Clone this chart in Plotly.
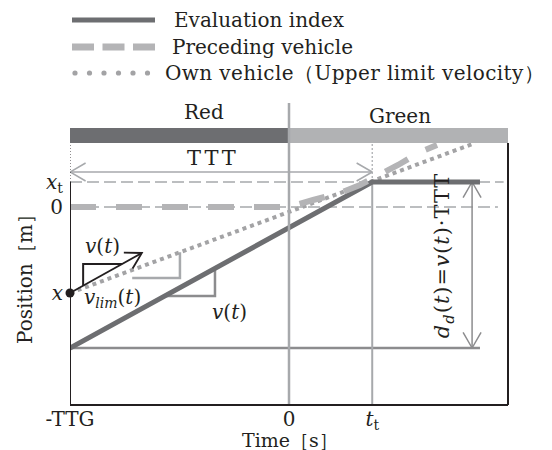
import math
import plotly.graph_objects as go

# ---- signal phases along the time axis ----
PHASE_NAMES = ["Red", "Green"]
PHASE_EDGES = [-5.0, 0.0, 5.0]
PHASE_COLORS = ["#6d6e71", "#b1b2b4"]
PHASE_LABEL_T = [-1.94, 2.53]

# ---- key times [s] and positions [m] ----
TTG = 5.0
T_T = 1.9
X_T = 10.0
X_OWN = -34.4
X_START = -56.4          # x_t - d_d(t)

X_TICKS = [-TTG, 0.0, T_T]
X_TICK_TEXT = ["-TTG", "0", "<i>t</i><sub>t</sub>"]
Y_TICKS = [X_T, 0.0, X_OWN]
Y_TICK_TEXT = ["<i>x</i><sub>t</sub>", "0", "<i>x</i>"]

# ---- trajectories ----
EVAL_T = [-5.0, 1.9, 4.36]
EVAL_Y = [-56.4, 10.0, 10.0]

PREC_T = [-5.0, 0.0, 0.55, 1.16, 1.62, 2.19, 2.49, 2.99, 3.38]
PREC_Y = [0.0, 0.0, 2.8, 5.6, 8.8, 14.0, 16.8, 22.0, 24.8]

OWN_T = [-5.0, 4.25]
OWN_Y = [-34.4, 25.6]

# current velocity vector from the own vehicle
VEL_T = [-5.0, -3.36]
VEL_Y = [-34.4, -18.4]

# slope triangles
VEL_TRI_T = [-4.70, -4.70, -3.81]
VEL_TRI_Y = [-31.5, -22.8, -22.8]
LIM_TRI_T = [-3.58, -2.49, -2.49]
LIM_TRI_Y = [-28.4, -28.4, -18.1]
EVAL_TRI_T = [-2.84, -1.69, -1.69]
EVAL_TRI_Y = [-35.6, -35.6, -24.6]

# reference lines
REF_LEVELS = [X_T, 0.0]
REF_ENDS = [4.9, 4.77]
BASE_END = 4.36
TTT_LEVEL = 14.0
DD_TIME = 4.18

LEGEND_NAMES = ["Evaluation index", "Preceding vehicle",
                "Own vehicle（Upper limit velocity）"]
LEGEND_SPACING = [0, 0, 0.4]

# ---- frame ----
W, H = 552, 450
ML, MR, MT, MB = 70, 44, 143, 45
X_RANGE = [-5.0, 5.0]
Y_RANGE = [-79.2, 25.6]
PW, PH = W - ML - MR, H - MT - MB
SX = PW / (X_RANGE[1] - X_RANGE[0])
SY = PH / (Y_RANGE[1] - Y_RANGE[0])

FONT = "DejaVu Serif"
INK = "#231f20"
DARK = "#6d6e71"
MID = "#8c8c8e"
LIGHT = "#a7a9ac"


def paper(xp, yp):
    return (xp - ML) / PW, (H - MB - yp) / PH


def chevron(tip, toward, length=18, half_angle=30):
    dx = (toward[0] - tip[0]) * SX
    dy = (toward[1] - tip[1]) * SY
    n = math.hypot(dx, dy)
    ux, uy = dx / n, dy / n
    xs, ys = [], []
    for k, s in enumerate((1, -1)):
        a = math.radians(s * half_angle)
        rx = ux * math.cos(a) - uy * math.sin(a)
        ry = ux * math.sin(a) + uy * math.cos(a)
        xs.append(tip[0] + rx * length / SX)
        ys.append(tip[1] + ry * length / SY)
        if k == 0:
            xs.append(tip[0])
            ys.append(tip[1])
    return xs, ys


fig = go.Figure()


def line(x, y, color, width, dash="solid"):
    fig.add_trace(go.Scatter(x=x, y=y, mode="lines", showlegend=False,
                             hoverinfo="skip", cliponaxis=False,
                             line=dict(color=color, width=width, dash=dash)))


# thin dashed reference levels
for lvl, end in zip(REF_LEVELS, REF_ENDS):
    line([X_RANGE[0], end], [lvl, lvl], LIGHT, 1.5, "12px,5px")

# base line at the start position
line([X_RANGE[0], BASE_END], [X_START, X_START], MID, 2.5)

# t_t vertical
line([T_T, T_T], [Y_RANGE[0], X_T], LIGHT, 2)
line([T_T, T_T], [X_T, Y_RANGE[1]], LIGHT, 1.2, "2px,2px")

# TTT double arrow
line([X_RANGE[0], T_T], [TTT_LEVEL, TTT_LEVEL], LIGHT, 1.5)
for tip, tow in (((X_RANGE[0], TTT_LEVEL), (T_T, TTT_LEVEL)),
                 ((T_T, TTT_LEVEL), (X_RANGE[0], TTT_LEVEL))):
    cx, cy = chevron(tip, tow)
    line(cx, cy, LIGHT, 1.5)

# d_d double arrow
line([DD_TIME, DD_TIME], [X_T, X_START], MID, 1.5)
for tip, tow in (((DD_TIME, X_T), (DD_TIME, X_START)),
                 ((DD_TIME, X_START), (DD_TIME, X_T))):
    cx, cy = chevron(tip, tow)
    line(cx, cy, MID, 1.5)

# slope triangles
line(LIM_TRI_T, LIM_TRI_Y, LIGHT, 2.5)
line(EVAL_TRI_T, EVAL_TRI_Y, MID, 2.5)
line(VEL_TRI_T, VEL_TRI_Y, INK, 2)

# trajectories
line(OWN_T, OWN_Y, "#a3a3a5", 4, "4px,4px")
line(EVAL_T, EVAL_Y, DARK, 5)
line(PREC_T, PREC_Y, "#b4b4b6", 6, "26px,20px")

# velocity vector
line(VEL_T, VEL_Y, INK, 1.8)
cx, cy = chevron((VEL_T[1], VEL_Y[1]), (VEL_T[0], VEL_Y[0]))
line(cx, cy, INK, 1.8)

# own vehicle position
fig.add_trace(go.Scatter(x=[OWN_T[0]], y=[OWN_Y[0]], mode="markers",
                         showlegend=False, hoverinfo="skip", cliponaxis=False,
                         marker=dict(color=INK, size=9)))

shapes = []
# signal phase bar
bar_h = 15 / PH
for i, col in enumerate(PHASE_COLORS):
    shapes.append(dict(type="rect", xref="x", yref="paper",
                       x0=PHASE_EDGES[i], x1=PHASE_EDGES[i + 1],
                       y0=1.0, y1=1.0 + bar_h, fillcolor=col, line_width=0))
# phase divider at t = 0
shapes.append(dict(type="line", xref="x", yref="paper", x0=0, x1=0,
                   y0=0, y1=paper(0, 103)[1], line=dict(color=LIGHT, width=2.5)))
# frame
shapes += [
    dict(type="line", xref="paper", yref="paper", x0=0, x1=1, y0=0, y1=0,
         line=dict(color=INK, width=2)),
    dict(type="line", xref="paper", yref="paper", x0=1, x1=1, y0=0, y1=1,
         line=dict(color=INK, width=2)),
    dict(type="line", xref="x", yref="y", x0=X_RANGE[0], x1=X_RANGE[0],
         y0=Y_RANGE[0], y1=X_T, line=dict(color=INK, width=2)),
    dict(type="line", xref="x", yref="y", x0=X_RANGE[0], x1=X_RANGE[0],
         y0=X_T, y1=Y_RANGE[1], line=dict(color=INK, width=1, dash="1px,2px")),
]

# legend samples
for k, yp in enumerate((20, 47, 73)):
    x0, y0 = paper(72, yp)
    x1, _ = paper(155, yp)
    if k == 0:
        shapes.append(dict(type="line", xref="paper", yref="paper", x0=x0, x1=x1,
                           y0=y0, y1=y0, line=dict(color=DARK, width=5)))
    elif k == 1:
        shapes.append(dict(type="line", xref="paper", yref="paper", x0=x0, x1=x1,
                           y0=y0, y1=y0,
                           line=dict(color="#b4b4b6", width=7, dash="22px,8.5px")))
    else:
        for j in range(6):
            cxp = 75 + 14.5 * j
            a0, b0 = paper(cxp - 2.6, yp + 2.6)
            a1, b1 = paper(cxp + 2.6, yp - 2.6)
            shapes.append(dict(type="circle", xref="paper", yref="paper",
                               x0=a0, x1=a1, y0=b0, y1=b1,
                               fillcolor="#a3a3a5", line_width=0))

annotations = []


def text(s, x, y, xref="x", yref="y", size=20, xanchor="center",
         yanchor="middle", angle=0):
    annotations.append(dict(text=s, x=x, y=y, xref=xref, yref=yref,
                            showarrow=False, xanchor=xanchor, yanchor=yanchor,
                            textangle=angle,
                            font=dict(family=FONT, size=size, color=INK)))


for name, sp, xp, yp in zip(LEGEND_NAMES, LEGEND_SPACING, (172, 170, 163),
                            (20, 47, 73)):
    px_, py_ = paper(xp, yp)
    label = f'<span style="letter-spacing:{sp}px">{name}</span>' if sp else name
    text(label, px_, py_, "paper", "paper", xanchor="left")

for name, tx, yp in zip(PHASE_NAMES, PHASE_LABEL_T, (112, 116)):
    text(name, tx, paper(0, yp)[1], "x", "paper")

text('<span style="letter-spacing:3px">TTT</span>', -1.74, 19.6, size=21)
text("<i>v</i>(<i>t</i>)", -4.25, -15.6)
text("<i>v</i><sub><i>lim</i></sub>(<i>t</i>)", -4.02, -36.5)
text("<i>v</i>(<i>t</i>)", -1.35, -42.0)
text('<span style="letter-spacing:1px"><i>d</i><sub><i>d</i></sub>(<i>t</i>)'
     '=<i>v</i>(<i>t</i>)·TTT</span>',
     3.52, -19.2, size=21, angle=-90)

tx_, ty_ = paper(290, 440)
text("Time［s］", tx_, ty_, "paper", "paper", size=19)
tx_, ty_ = paper(25, 274)
text("Position［m］", tx_, ty_, "paper", "paper", angle=-90)

fig.update_layout(
    width=W, height=H,
    margin=dict(l=ML, r=MR, t=MT, b=MB),
    paper_bgcolor="white", plot_bgcolor="white",
    showlegend=False,
    shapes=shapes, annotations=annotations,
    font=dict(family=FONT, size=20, color=INK),
    xaxis=dict(range=X_RANGE, showgrid=False, zeroline=False, showline=False,
               tickvals=X_TICKS, ticktext=X_TICK_TEXT, ticks="",
               ticklabelstandoff=0, tickfont=dict(family=FONT, size=20, color=INK)),
    yaxis=dict(range=Y_RANGE, showgrid=False, zeroline=False, showline=False,
               tickvals=Y_TICKS, ticktext=Y_TICK_TEXT, ticks="",
               ticklabelstandoff=6, tickfont=dict(family=FONT, size=20, color=INK)),
)

fig.write_html("out.html")
